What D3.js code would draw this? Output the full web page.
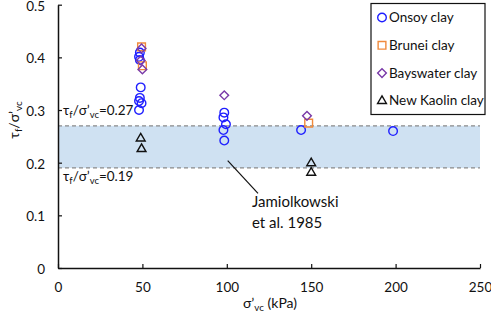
<!DOCTYPE html>
<html>
<head>
  <meta charset="utf-8">
  <title>tau_f / sigma'vc</title>
  <style>
    body { margin: 0; background: #fff; }
    text { font-family: Lato, "Open Sans", sans-serif; fill: #111; }
  </style>
</head>
<body>
  <script src="https://d3js.org/d3.v7.min.js"></script>
  <script>
    // data: [sigma'vc (kPa), tau_f/sigma'vc]
    var onsoy = [[48.5, 0.409], [48, 0.401], [48.5, 0.395], [49, 0.343], [48.5, 0.323], [48, 0.317],
      [49.5, 0.313], [48, 0.300], [98.5, 0.295], [98, 0.286], [99.5, 0.273], [98, 0.262], [98.5, 0.242],
      [144, 0.262], [198.5, 0.260]];
    var brunei = [[49.5, 0.420], [50, 0.384], [148.5, 0.275]];
    var bayswater = [[49.5, 0.417], [49, 0.394], [50, 0.377], [98.5, 0.328], [147.5, 0.289]];
    var kaolin = [[49, 0.246], [49.5, 0.226], [150, 0.199], [150, 0.181]];
    var bandLow = 0.19, bandHigh = 0.27;
    var xTicks = [0, 50, 100, 150, 200, 250];
    var yTicks = [0, 0.1, 0.2, 0.3, 0.4, 0.5];

    var W = 491, H = 316;
    var plot = { l: 58, r: 480, t: 4.7, b: 268 };

    var x = d3.scaleLinear().domain([0, 250]).range([plot.l, plot.r]);
    var y = d3.scaleLinear().domain([0, 0.5]).range([plot.b, plot.t]);

    var svg = d3.select('body').append('svg')
      .attr('width', W).attr('height', H);

    // band
    svg.append('rect')
      .attr('x', x(0)).attr('width', x(250) - x(0))
      .attr('y', y(bandHigh)).attr('height', y(bandLow) - y(bandHigh))
      .attr('fill', '#cfe1f2');
    [bandLow, bandHigh].forEach(function (v) {
      svg.append('line')
        .attr('x1', x(0)).attr('x2', x(250))
        .attr('y1', y(v)).attr('y2', y(v))
        .attr('stroke', '#8a8a8a').attr('stroke-width', 1.2)
        .attr('stroke-dasharray', '4,3');
    });

    // axes
    var xAxis = svg.append('g').attr('transform', 'translate(0,' + plot.b + ')')
      .call(d3.axisBottom(x).tickValues(xTicks).tickSizeInner(-4).tickSizeOuter(0).tickPadding(14));
    var yAxis = svg.append('g').attr('transform', 'translate(' + plot.l + ',0)')
      .call(d3.axisLeft(y).tickValues(yTicks).tickSizeInner(-4).tickSizeOuter(0).tickPadding(13)
        .tickFormat(function (d) { return d === 0 ? '0' : d3.format('.1f')(d); }));
    [xAxis, yAxis].forEach(function (a) {
      a.select('.domain').attr('stroke', '#111').attr('stroke-width', 1.5);
      a.selectAll('.tick line').attr('stroke', '#111').attr('stroke-width', 1.2);
      a.selectAll('.tick text').attr('font-size', 13.5).attr('fill', '#111')
        .attr('font-family', 'Lato, "Open Sans", sans-serif');
    });
    yAxis.selectAll('.tick text').attr('dy', '0.4em');

    // helper: tau_f/sigma'_vc with subscripts
    function ratioLabel(sel, tail) {
      sel.append('tspan').text('τ');
      sel.append('tspan').text('f').attr('font-size', '0.7em').attr('dy', 3);
      sel.append('tspan').text('/σ\u2019').attr('dy', -3);
      sel.append('tspan').text('vc').attr('font-size', '0.7em').attr('dy', 3);
      if (tail) sel.append('tspan').text(tail).attr('dy', -3);
    }

    ratioLabel(svg.append('text').attr('x', 63).attr('y', 115).attr('font-size', 13.5), '=0.27');
    ratioLabel(svg.append('text').attr('x', 63).attr('y', 181).attr('font-size', 13.5), '=0.19');

    // axis titles
    ratioLabel(svg.append('text')
      .attr('transform', 'translate(19,120) rotate(-90)')
      .attr('text-anchor', 'middle').attr('font-size', 14));
    var xt = svg.append('text').attr('x', 270).attr('y', 308)
      .attr('text-anchor', 'middle').attr('font-size', 14);
    xt.append('tspan').text('σ\u2019');
    xt.append('tspan').text('vc').attr('font-size', '0.7em').attr('dy', 3);
    xt.append('tspan').text(' (kPa)').attr('dy', -3);

    // annotation
    svg.append('line')
      .attr('x1', 227.7).attr('y1', 160.7).attr('x2', 258).attr('y2', 193.3)
      .attr('stroke', '#111').attr('stroke-width', 1.2);
    svg.append('text').attr('x', 252).attr('y', 207).attr('font-size', 15).text('Jamiolkowski');
    svg.append('text').attr('x', 252).attr('y', 228).attr('font-size', 15).text('et al. 1985');

    // series (diamond = square turned 45 degrees)
    var series = [
      { name: 'Onsoy clay', data: onsoy, sym: d3.symbolCircle, size: 58, rot: 0, color: '#1f1fff' },
      { name: 'Brunei clay', data: brunei, sym: d3.symbolSquare, size: 60, rot: 0, color: '#f08a3c' },
      { name: 'Bayswater clay', data: bayswater, sym: d3.symbolSquare, size: 38, rot: 45, color: '#7a3aa8' },
      { name: 'New Kaolin clay', data: kaolin, sym: d3.symbolTriangle, size: 34, rot: 0, color: '#111' }
    ];

    series.forEach(function (s) {
      svg.append('g').selectAll('path').data(s.data).enter().append('path')
        .attr('d', d3.symbol().type(s.sym).size(s.size))
        .attr('transform', function (d) {
          return 'translate(' + x(d[0]) + ',' + y(d[1]) + ') rotate(' + s.rot + ')';
        })
        .attr('fill', 'none').attr('stroke', s.color).attr('stroke-width', 1.4);
    });

    // legend
    var lg = svg.append('g');
    lg.append('rect').attr('x', 371).attr('y', 3.5).attr('width', 114).attr('height', 111)
      .attr('fill', '#fff').attr('stroke', '#111').attr('stroke-width', 1.2);
    series.forEach(function (s, i) {
      var cy = 17.5 + i * 27.8;
      lg.append('path')
        .attr('d', d3.symbol().type(s.sym).size(s.size))
        .attr('transform', 'translate(382,' + cy + ') rotate(' + s.rot + ')')
        .attr('fill', 'none').attr('stroke', s.color).attr('stroke-width', 1.4);
      lg.append('text').attr('x', 389).attr('y', cy + 4.5).attr('font-size', 13.5).text(s.name);
    });
  </script>
</body>
</html>
